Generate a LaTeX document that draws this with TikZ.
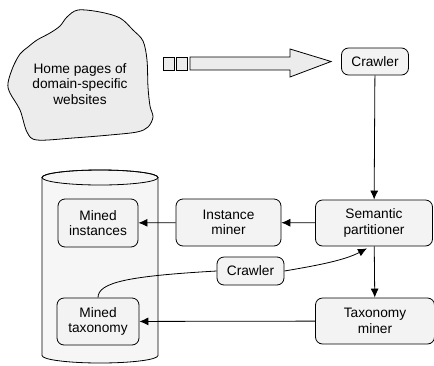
\documentclass[tikz,border=0pt]{standalone}
\usepackage{fontspec}
\setmainfont{Liberation Sans}
\usetikzlibrary{arrows.meta}

\definecolor{boxgray}{RGB}{243,243,243}
\definecolor{blobgray}{RGB}{236,236,236}
\definecolor{dbgray}{RGB}{246,246,246}

\begin{document}
\begin{tikzpicture}[x=1pt,y=-1pt,line width=0.8pt,
    font=\fontsize{13.7}{15.6}\selectfont,
    >={Latex[length=9pt,width=8pt]},
    box/.style={draw,fill=boxgray,rounded corners=7pt,align=center,inner sep=1pt}]
    \useasboundingbox (0,0) rectangle (434,365);

    \pgfmathsetmacro {\cx}{100}  %Centre of database cylinder
    \pgfmathsetmacro {\rx}{58}   %Half width of cylinder
    \pgfmathsetmacro {\ry}{7.5}  %Half height of its ellipses

    % Cloud of home pages
    \draw[fill=blobgray] plot[smooth cycle,tension=0.55] coordinates {
        (78,10) (100,12) (120,18) (133,30) (143,41) (147,60) (148,87)
        (150,106) (153,117) (148,127) (137,132) (110,135) (73,138)
        (37,140) (27,132) (20,110) (10,93) (8,83) (13,67) (20,54)
        (28,47) (37,40) (50,33) (60,26) (67,17)};
    \node[align=center] (home) at (80,84) {Home pages of\\domain-specific\\websites};

    % Database cylinder
    \draw[fill=dbgray] (\cx-\rx,177.5) -- (\cx-\rx,355.5)
        arc[start angle=180,end angle=0,x radius=\rx,y radius=\ry]
        -- (\cx+\rx,177.5)
        arc[start angle=0,end angle=-180,x radius=\rx,y radius=\ry] -- cycle;
    \draw (\cx,177.5) ellipse [x radius=\rx,y radius=\ry];

    % Boxes
    \node[box,minimum width=67pt,minimum height=27pt] (crawltop) at (375,61.5) {Crawler};
    \node[box,minimum width=117pt,minimum height=46pt] (sem) at (374,223) {Semantic\\partitioner};
    \node[box,minimum width=105pt,minimum height=47pt] (inst) at (228.5,222.5) {Instance\\miner};
    \node[box,minimum width=119pt,minimum height=46pt] (tax) at (375,321) {Taxonomy\\miner};
    \node[box,minimum width=67pt,minimum height=28pt] (crawlmid) at (250.5,271) {Crawler};
    \node[box,minimum width=80pt,minimum height=48pt] (minst) at (98,223) {Mined\\instances};
    \node[box,minimum width=82pt,minimum height=47pt] (mtax) at (98,321.5) {Mined\\taxonomy};

    % Fat arrow from the home pages to the crawler
    \draw[fill=blobgray] (163,57) rectangle (174,70);
    \draw[fill=blobgray] (176,57) rectangle (187,70);
    \draw[fill=blobgray] (190,57) -- (290,57) -- (290,49) -- ([xshift=-10pt]crawltop.west)
        -- (290,77) -- (290,70) -- (190,70) -- cycle;

    % Connectors
    \draw[->] (crawltop) -- (sem);
    \draw[->] (sem) -- (inst);
    \draw[->] (inst) -- (minst);
    \draw[->] (sem) -- (tax);
    \draw[->] (tax) -- (mtax);
    \coordinate (semin) at ([xshift=-7pt,yshift=-2pt]sem.south);
    \draw (mtax.north) .. controls (98,282) and (130,276) .. (crawlmid.west);
    \draw[->] (crawlmid.east) .. controls (320,265) and (345,260) .. (semin);
\end{tikzpicture}
\end{document}
